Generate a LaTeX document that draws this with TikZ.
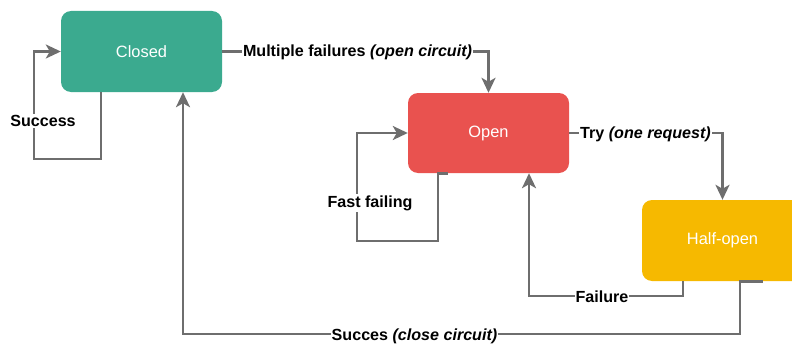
\documentclass[tikz,border=0pt]{standalone}
\usepackage{fontspec}
\setmainfont{Liberation Sans}
\usetikzlibrary{arrows.meta,calc}
\definecolor{cteal}{RGB}{59,170,143}
\definecolor{cred}{RGB}{233,82,79}
\definecolor{cyellow}{RGB}{246,185,0}
\definecolor{cgray}{RGB}{110,110,110}
\tikzset{
  statebox/.style={draw=none, rounded corners=10pt, minimum width=161pt, minimum height=81pt,
    inner sep=0pt, text=white, font=\fontsize{16.4}{19}\selectfont},
  edge/.style={draw=cgray, line width=2.6pt, -{Stealth[length=15pt,width=14pt,inset=4pt]}},
  elabel/.style={fill=white, inner sep=1pt, font=\fontsize{16.1}{19}\selectfont\bfseries, text=black}
}
\begin{document}
\begin{tikzpicture}[x=1pt,y=-1pt]
\useasboundingbox (0,0) rectangle (792,345);
\begin{scope}
\clip (0,0) rectangle (792,345);
\node[statebox, fill=cteal] (closed) at (141.5,51.5) {Closed};
\node[statebox, fill=cred, minimum height=80pt] (open) at (488.5,133) {Open};
\node[statebox, fill=cyellow] (half) at (722.5,240.5) {Half-open};
\end{scope}

\coordinate (s1) at (34,159);
\coordinate (f1) at (357,241);
\coordinate (g1) at (529,296);
\coordinate (h1) at (183,334);

% Success loop on Closed
\draw[edge] ([xshift=40pt]closed.south west) |- (s1) |- (closed.west);
% Closed -> Open
\draw[edge] (closed.east) -| (open.north);
% Open -> Half-open
\draw[edge] (open.east) -| (half.north);
% Fast failing loop on Open
\draw[edge] ([xshift=40pt]open.south west) -- ([xshift=30pt]open.south west) |- (f1) |- (open.west);
% Half-open -> Open (Failure)
\draw[edge] ([xshift=41pt]half.south west) |- (g1) -- (g1 |- open.south);
% Half-open -> Closed (Succes)
\draw[edge] ([xshift=121pt]half.south west) -- ([xshift=98pt]half.south west) |- (h1) -- (h1 |- closed.south);

% labels
\node[elabel] (lsuccess) at (43,121) {Success};
\node[elabel] (lmulti) at (357.5,52) {Multiple failures \textit{(open circuit)}};
\node[elabel] (ltry) at (645.5,134) {Try \textit{(one request)}};
\node[elabel] (lfast) at (370,203) {Fast failing};
\node[elabel] (lfail) at (602,297) {Failure};
\node[elabel] (lsucc) at (414.5,336) {Succes \textit{(close circuit)}};
\end{tikzpicture}
\end{document}
